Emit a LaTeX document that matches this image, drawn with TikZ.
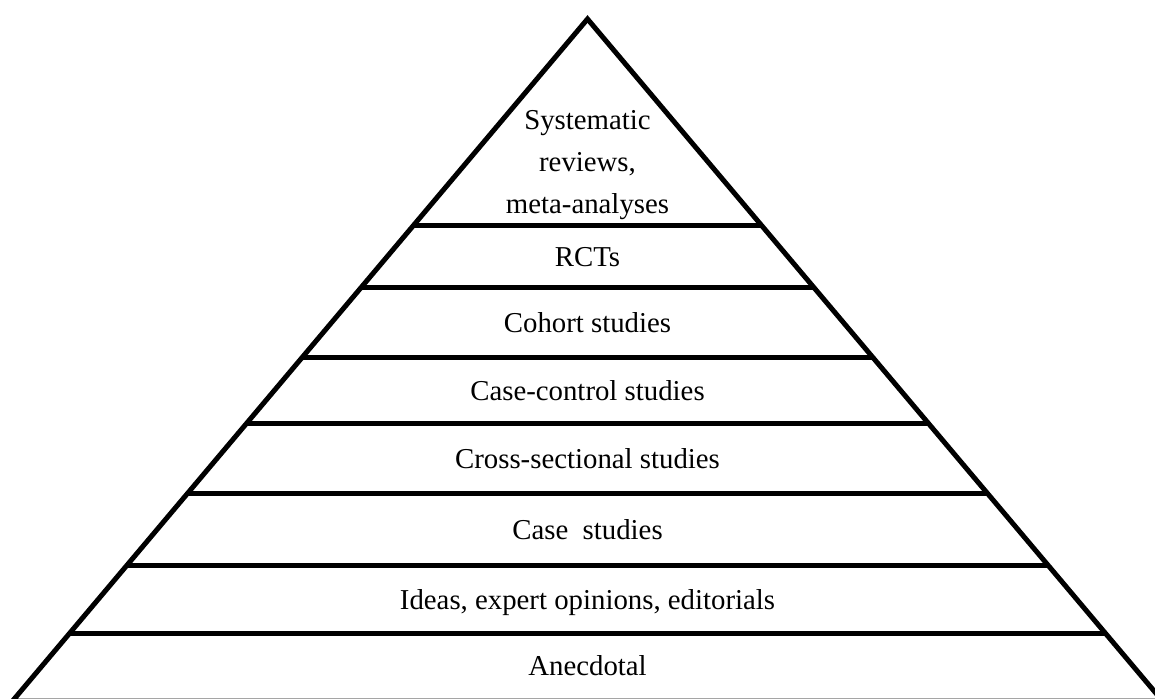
\documentclass[tikz,border=0pt]{standalone}
\usepackage{fontspec}
\setmainfont{Liberation Serif}
\usetikzlibrary{calc}
\tikzset{
  edge/.style={line width=5pt, line join=miter, black},
  band/.style={line width=5pt, black},
  lbl/.style={anchor=base, inner sep=0pt, font=\fontsize{28.8}{40}\selectfont, align=center}
}
\begin{document}
\begin{tikzpicture}[x=1pt,y=1pt]
\useasboundingbox (0,0) rectangle (1155,-698);
\begin{scope}
\clip (0,0) rectangle (1155,-698);
\coordinate (A) at (587.5,-19);
\coordinate (L) at (12.5,-701);
\coordinate (R) at (1162.5,-701);
\draw[edge] (L) -- (A) -- (R) -- cycle;
\foreach \yy in {225,287,357,423,493,565,633} {
  \pgfmathsetmacro\hw{(\yy-19)*0.8433}
  \draw[band] ({587.5-\hw},{-\yy}) -- ({587.5+\hw},{-\yy});
}
\end{scope}
\node[lbl] (s1) at (587.5,-129) {Systematic};
\node[lbl] (s2) at (587.5,-171) {reviews,};
\node[lbl] (s3) at (587.5,-213) {meta-analyses};
\node[lbl] (rct) at (587.5,-266) {RCTs};
\node[lbl] (coh) at (587.5,-332) {Cohort studies};
\node[lbl] (cc) at (587.5,-400) {Case-control studies};
\node[lbl] (cs) at (587.5,-468) {Cross-sectional studies};
\node[lbl] (case) at (587.5,-539) {Case\ \ studies};
\node[lbl] (idea) at (587.5,-609) {Ideas, expert opinions, editorials};
\node[lbl] (anec) at (587.5,-675.5) {Anecdotal};
\end{tikzpicture}
\end{document}
